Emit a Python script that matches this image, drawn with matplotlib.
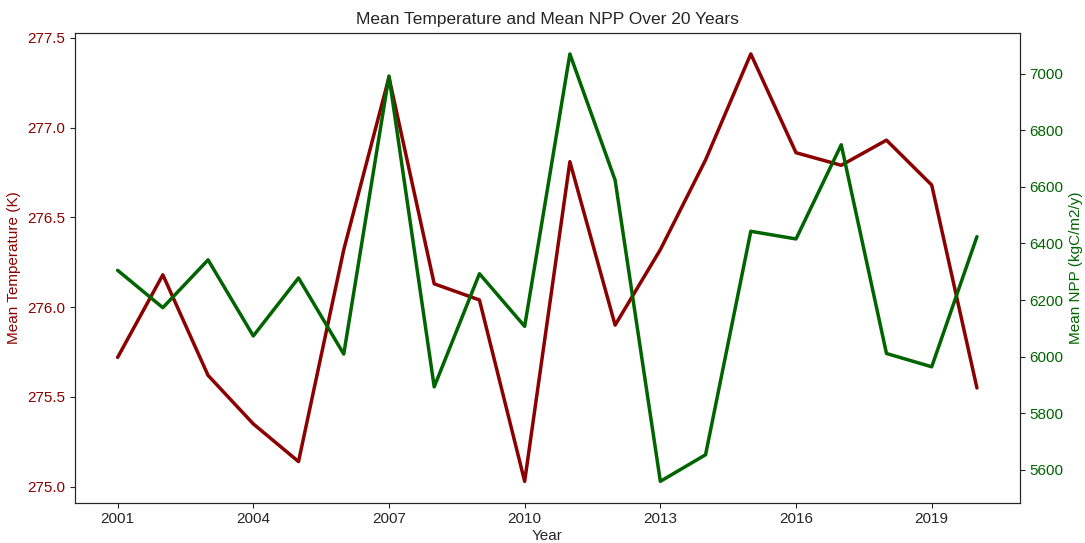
import numpy as np
import matplotlib.pyplot as plt
import seaborn as sns

sns.set_style("ticks")
plt.rcParams['font.family'] = ['Liberation Sans', 'DejaVu Sans']

years = list(range(2001, 2021))
mean_temp = [275.72, 276.18, 275.62, 275.35, 275.14, 276.32, 277.28, 276.13, 276.04, 275.03,
             276.81, 275.90, 276.32, 276.82, 277.41, 276.86, 276.79, 276.93, 276.68, 275.55]
mean_npp = [6305, 6173, 6342, 6073, 6278, 6009, 6992, 5893, 6293, 6107,
            7070, 6624, 5559, 5653, 6443, 6416, 6749, 6011, 5964, 6424]
xticks = list(range(2001, 2021, 3))

fig = plt.figure(figsize=(10.85, 5.43), dpi=100)
ax1 = fig.add_axes([0.0688, 0.0742, 0.8712, 0.8658])

ax1.plot(years, mean_temp, color='darkred', lw=2.5)
ax1.set_xlabel('Year', fontsize=11, labelpad=2)
ax1.set_ylabel('Mean Temperature (K)', color='darkred', fontsize=11)
ax1.tick_params(axis='y', labelcolor='darkred', labelsize=11)
ax1.tick_params(axis='x', labelsize=11)
ax1.set_xticks(xticks)

ax2 = ax1.twinx()
ax2.plot(years, mean_npp, color='darkgreen', lw=2.5)
ax2.set_ylabel('Mean NPP (kgC/m2/y)', color='darkgreen', fontsize=11)
ax2.tick_params(axis='y', labelcolor='darkgreen', labelsize=11)

ax1.set_title('Mean Temperature and Mean NPP Over 20 Years', fontsize=12.5)

fig.savefig('out.png', dpi=100)
